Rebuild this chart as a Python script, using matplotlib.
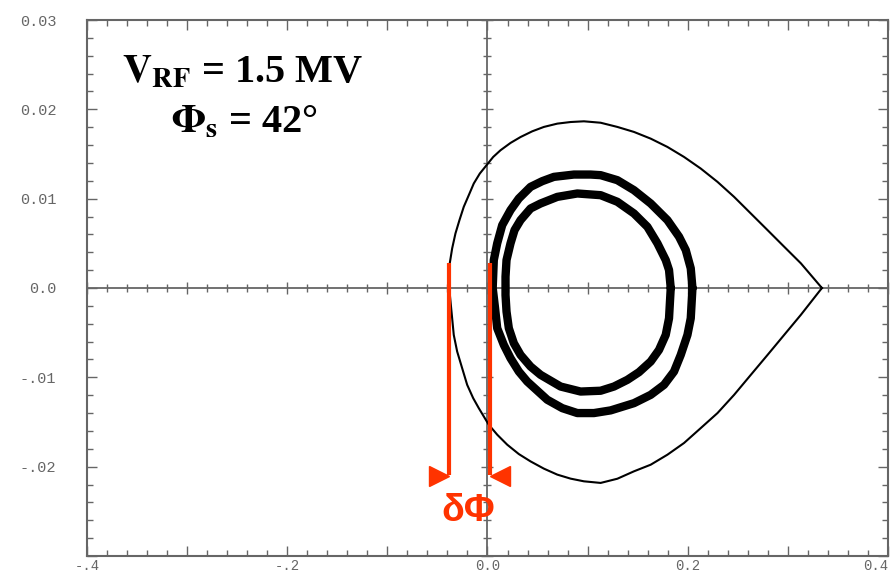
import matplotlib
matplotlib.use("Agg")
import matplotlib.pyplot as plt
from matplotlib.ticker import FixedLocator, FixedFormatter, MultipleLocator

# ---------------- data ----------------
sep_x = [0.334, 0.313, 0.2963, 0.2797, 0.263, 0.2463, 0.2297, 0.213, 0.1963, 0.1797,
         0.163, 0.1463, 0.1297, 0.113, 0.0963, 0.083, 0.0697, 0.0563, 0.0447, 0.033,
         0.023, 0.013, 0.0057, -0.001, -0.0077, -0.0137, -0.0187, -0.0237, -0.028, -0.032,
         -0.0353, -0.0377, -0.0387, -0.0353, -0.0337, -0.0303, -0.0253, -0.0203, -0.0143,
         -0.0087, 0.0013, 0.0097, 0.0197, 0.0313, 0.043, 0.0563, 0.0697, 0.083, 0.0963,
         0.113, 0.1297, 0.1463, 0.163, 0.1797, 0.1963, 0.213, 0.2297, 0.2463, 0.263,
         0.2797, 0.2963, 0.313, 0.334]
sep_y = [0.0, 0.00276, 0.00462, 0.00648, 0.00834, 0.0102, 0.01188, 0.01337, 0.01467, 0.01579,
         0.01672, 0.01747, 0.01803, 0.0185, 0.01866, 0.01858, 0.0184, 0.01803, 0.01754, 0.0169,
         0.01624, 0.01542, 0.01467, 0.01374, 0.01281, 0.0117, 0.01039, 0.00909, 0.0076, 0.00611,
         0.00443, 0.00276, 0.0005, -0.00339, -0.00525, -0.00711, -0.00898, -0.01084, -0.01233,
         -0.01345, -0.01531, -0.01642, -0.01754, -0.01859, -0.01941, -0.02022, -0.02089, -0.02134, -0.02164,
         -0.02182, -0.02135, -0.02052, -0.01978, -0.01866, -0.01735, -0.01568, -0.0140, -0.01196, -0.00972,
         -0.00749, -0.00525, -0.0030, 0.0]

outer_x = [0.2047, 0.203, 0.198, 0.1913, 0.1797, 0.163, 0.1463, 0.1297, 0.113, 0.103,
           0.0863, 0.0663, 0.0547, 0.043, 0.0313, 0.023, 0.0147, 0.0097, 0.0063, 0.0052,
           0.0075, 0.0097, 0.0163, 0.023, 0.0313, 0.0397, 0.0597, 0.0747, 0.0897, 0.1063,
           0.123, 0.1463, 0.163, 0.1763, 0.1863, 0.193, 0.1997, 0.203, 0.2047]
outer_y = [0.0, 0.0022, 0.00425, 0.00574, 0.0076, 0.00946, 0.01095, 0.01207, 0.01263, 0.0127,
           0.0127, 0.01244, 0.01196, 0.01132, 0.01002, 0.00872, 0.00704, 0.0050, 0.00313, 0.0,
           -0.0022, -0.0045, -0.00637, -0.00786, -0.00935, -0.01047, -0.01251, -0.01345, -0.0140, -0.0140,
           -0.0137, -0.01289, -0.01196, -0.01084, -0.00935, -0.00749, -0.00525, -0.00339, 0.0]

inner_x = [0.183, 0.1813, 0.178, 0.1697, 0.1597, 0.1463, 0.1297, 0.113, 0.0897, 0.0697,
           0.053, 0.043, 0.033, 0.027, 0.023, 0.019, 0.018, 0.018, 0.019, 0.0213,
           0.0263, 0.033, 0.043, 0.053, 0.073, 0.093, 0.113, 0.1263, 0.1397, 0.1513,
           0.163, 0.1713, 0.178, 0.1813, 0.183]
inner_y = [0.0, 0.00201, 0.00313, 0.0050, 0.00685, 0.00834, 0.00965, 0.01039, 0.01058, 0.0102,
           0.00946, 0.0089, 0.0076, 0.00648, 0.0050, 0.00313, 0.00127, -0.0008, -0.00264, -0.0045,
           -0.00618, -0.00749, -0.00879, -0.00972, -0.01103, -0.01159, -0.0115, -0.01103, -0.01028, -0.00942,
           -0.00823, -0.00693, -0.00525, -0.00339, 0.0]

dphi_x = [-0.038, 0.002]          # phase positions marked by the red lines
dphi_top, dphi_bottom = 0.0028, -0.0209

xtick_vals = [-0.4, -0.3, -0.2, -0.1, 0.0, 0.1, 0.2, 0.3, 0.4]
xtick_labels = ['-.4', '', '-.2', '', '0.0', '', '0.2', '', '0.4']
ytick_vals = [-0.03, -0.02, -0.01, 0.0, 0.01, 0.02, 0.03]
ytick_labels = ['', '-.02', '-.01', '0.0', '0.01', '0.02', '0.03']

title_line1 = r'$\mathbf{V_{RF}}$ = 1.5 MV'
title_line2 = r'$\mathbf{\Phi_s}$ = 42°'
dphi_label = 'δΦ'

# ---------------- figure ----------------
plt.rcParams['mathtext.fontset'] = 'stix'
RED = '#ff3300'
AXC = '#666666'

fig = plt.figure(figsize=(8.95, 5.75), dpi=100)
pos = [87 / 895, 1 - 556 / 575, (888 - 87) / 895, (556 - 20) / 575]

# center cross axes (underneath)
ax2 = fig.add_axes(pos)
ax2.set_zorder(0)
ax2.set_xlim(-0.4, 0.4)
ax2.set_ylim(-0.03, 0.03)
for s in ('top', 'right'):
    ax2.spines[s].set_visible(False)
ax2.spines['left'].set_position(('data', 0))
ax2.spines['bottom'].set_position(('data', 0))
for s in ('left', 'bottom'):
    ax2.spines[s].set_color(AXC)
    ax2.spines[s].set_linewidth(1.3)
ax2.xaxis.set_major_locator(MultipleLocator(0.1))
ax2.xaxis.set_minor_locator(MultipleLocator(0.02))
ax2.yaxis.set_major_locator(MultipleLocator(0.01))
ax2.yaxis.set_minor_locator(MultipleLocator(0.002))
ax2.tick_params(which='both', direction='inout', color=AXC, labelleft=False,
                labelbottom=False, width=1.0)
ax2.tick_params(which='major', length=9)
ax2.tick_params(which='minor', length=6)

# main axes with frame and labels
ax = fig.add_axes(pos)
ax.set_zorder(1)
ax.patch.set_visible(False)
ax.set_xlim(-0.4, 0.4)
ax.set_ylim(-0.03, 0.03)
for s in ax.spines.values():
    s.set_color(AXC)
    s.set_linewidth(1.5)
ax.xaxis.set_major_locator(FixedLocator(xtick_vals))
ax.xaxis.set_major_formatter(FixedFormatter(xtick_labels))
ax.xaxis.set_minor_locator(MultipleLocator(0.02))
ax.yaxis.set_major_locator(FixedLocator(ytick_vals))
ax.yaxis.set_major_formatter(FixedFormatter(ytick_labels))
ax.yaxis.set_minor_locator(MultipleLocator(0.002))
ax.tick_params(which='both', direction='in', top=True, right=True, color=AXC, width=1.0)
ax.tick_params(which='major', length=7)
ax.tick_params(which='minor', length=4)
ax.tick_params(axis='x', pad=2)
ax.tick_params(axis='y', pad=22)
for lab in ax.get_yticklabels():
    lab.set_fontfamily('Liberation Mono')
    lab.set_fontsize(11)
    lab.set_color('#666666')
xlabs = ax.get_xticklabels()
for lab in xlabs:
    lab.set_fontfamily('Liberation Mono')
    lab.set_fontsize(10)
    lab.set_color('#666666')
xlabs[-1].set_horizontalalignment('right')

# curves
ax.plot(sep_x, sep_y, color='black', lw=1.5, zorder=3, solid_joinstyle='round')
ax.plot(outer_x, outer_y, color='black', lw=6.0, zorder=3,
        solid_joinstyle='round', solid_capstyle='round')
ax.plot(inner_x, inner_y, color='black', lw=6.0, zorder=3,
        solid_joinstyle='round', solid_capstyle='round')

# red delta-phi annotation
for xv in dphi_x:
    ax.plot([xv, xv], [dphi_top, dphi_bottom], color=RED, lw=3, zorder=5,
            solid_capstyle='butt')
ax.plot([dphi_x[0] - 0.0105], [dphi_bottom - 0.0002], marker='>', ms=15, color=RED,
        mec=RED, zorder=5, linestyle='none')
ax.plot([dphi_x[1] + 0.0105], [dphi_bottom - 0.0002], marker='<', ms=15, color=RED,
        mec=RED, zorder=5, linestyle='none')
ax.text(sum(dphi_x) / 2 - 0.001, -0.0250, dphi_label, color=RED, fontsize=27,
        fontweight='bold', family=['Liberation Sans', 'DejaVu Sans'],
        ha='center', va='center', zorder=6)

# parameter text
ax.text(-0.245, 0.0230, title_line1, fontsize=29, fontweight='bold',
        family='Liberation Serif', ha='center', va='baseline', zorder=6)
ax.text(-0.243, 0.0174, title_line2, fontsize=29, fontweight='bold',
        family='Liberation Serif', ha='center', va='baseline', zorder=6)

fig.savefig('out.png', dpi=100)
